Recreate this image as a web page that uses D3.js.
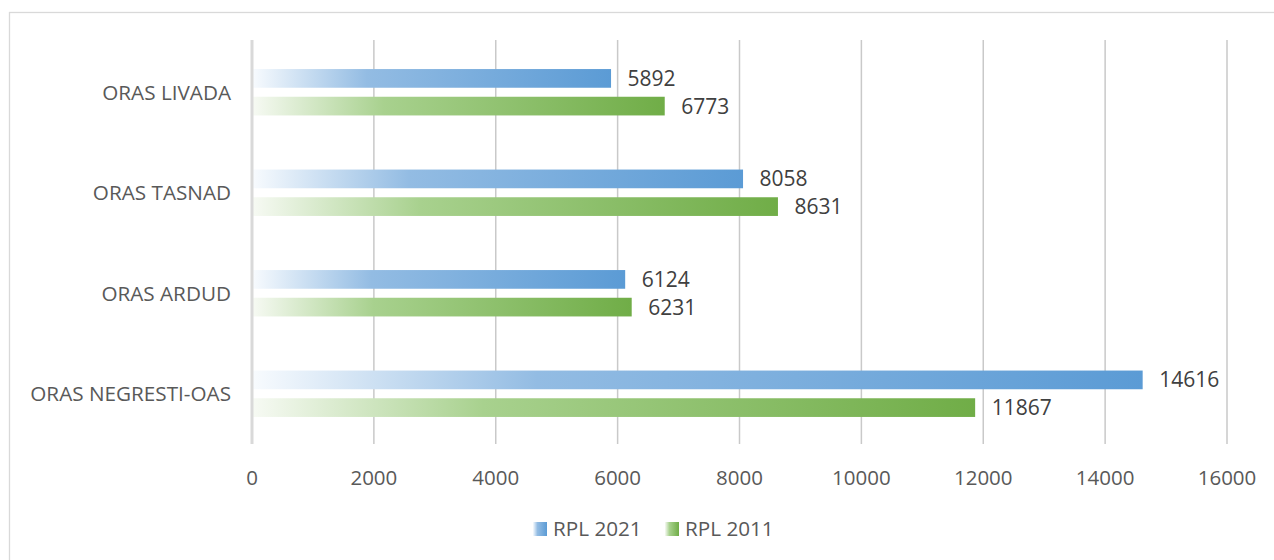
<!DOCTYPE html>
<html><head><meta charset="utf-8">
<script src="https://cdn.jsdelivr.net/npm/d3@7/dist/d3.min.js"></script>
<style>body{margin:0;background:#fff;}svg{display:block;}</style>
</head><body>
<svg id="c" width="1274" height="560"></svg>
<script>
const categories = ["ORAS LIVADA", "ORAS TASNAD", "ORAS ARDUD", "ORAS NEGRESTI-OAS"];
const seriesNames = ["RPL 2021", "RPL 2011"];
const rpl2021 = [5892, 8058, 6124, 14616];
const rpl2011 = [6773, 8631, 6231, 11867];
const xTicks = [0, 2000, 4000, 6000, 8000, 10000, 12000, 14000, 16000];

(function () {
const svg = d3.select("#c");
const font = "'Open Sans', sans-serif";
const pLeft = 252, pRight = 1227, pTop = 42, pBottom = 444;

// chart border
svg.append("rect").attr("x", 9.5).attr("y", 12.5).attr("width", 1300).attr("height", 600)
  .attr("fill", "#fff").attr("stroke", "#d9d9d9").attr("stroke-width", 1.3);

const defs = svg.append("defs");
function grad(id, c0, c1, c2) {
  const g = defs.append("linearGradient").attr("id", id).attr("x1", 0).attr("x2", 1).attr("y1", 0).attr("y2", 0);
  g.append("stop").attr("offset", 0).attr("stop-color", c0);
  g.append("stop").attr("offset", 0.32).attr("stop-color", c1);
  g.append("stop").attr("offset", 1).attr("stop-color", c2);
}
grad("gBlue", "#f8fbfe", "#93bce3", "#5b9bd5");
grad("gGreen", "#f7faf4", "#a8d18e", "#70ad47");

const x = d3.scaleLinear().domain([0, 16000]).range([pLeft, pRight]);
const y = d3.scaleBand().domain(categories).range([pTop, pBottom]);

// gridlines
svg.append("g").selectAll("line").data(xTicks.slice(1)).join("line")
  .attr("x1", d => x(d)).attr("x2", d => x(d)).attr("y1", pTop - 2).attr("y2", pBottom)
  .attr("stroke", "#c9c9c9").attr("stroke-width", 1.5);

// tick labels
svg.append("g").selectAll("text").data(xTicks).join("text")
  .attr("x", d => x(d)).attr("y", 478).attr("dy", "0.36em").attr("text-anchor", "middle")
  .attr("font-family", font).attr("font-size", 20.5).attr("fill", "#595959")
  .text(d => d);

const barH = 18.7, gap = 9;
const series = [
  {name: seriesNames[0], values: rpl2021, fill: "url(#gBlue)", off: -(gap / 2 + barH)},
  {name: seriesNames[1], values: rpl2011, fill: "url(#gGreen)", off: gap / 2}
];

series.forEach(s => {
  const g = svg.append("g");
  g.selectAll("rect").data(categories).join("rect")
    .attr("x", x(0)).attr("y", (c) => y(c) + y.bandwidth() / 2 + s.off)
    .attr("width", (c, i) => x(s.values[i]) - x(0)).attr("height", barH)
    .attr("fill", s.fill);
  g.selectAll("text").data(categories).join("text")
    .attr("x", (c, i) => x(s.values[i]) + 16.5)
    .attr("y", (c) => y(c) + y.bandwidth() / 2 + s.off + barH / 2)
    .attr("dy", "0.36em")
    .attr("font-family", font).attr("font-size", 21).attr("fill", "#404040")
    .text((c, i) => s.values[i]);
});

// vertical axis line
svg.append("line").attr("x1", x(0)).attr("x2", x(0)).attr("y1", pTop - 2).attr("y2", pBottom)
  .attr("stroke", "#d9d9d9").attr("stroke-width", 3);

// category labels
svg.append("g").selectAll("text").data(categories).join("text")
  .attr("x", 231).attr("y", c => y(c) + y.bandwidth() / 2).attr("dy", "0.36em")
  .attr("text-anchor", "end").attr("font-family", font).attr("font-size", 20.7).attr("fill", "#595959")
  .text(c => c);

// legend
const legend = [{name: seriesNames[0], fill: "url(#gBlue)", x: 533}, {name: seriesNames[1], fill: "url(#gGreen)", x: 665}];
const lg = svg.append("g");
lg.selectAll("rect").data(legend).join("rect")
  .attr("x", d => d.x).attr("y", 522).attr("width", 14).attr("height", 14).attr("fill", d => d.fill);
lg.selectAll("text").data(legend).join("text")
  .attr("x", d => d.x + 20).attr("y", 529).attr("dy", "0.36em")
  .attr("font-family", font).attr("font-size", 20.7).attr("fill", "#595959")
  .text(d => d.name);
})();
</script>
</body></html>
